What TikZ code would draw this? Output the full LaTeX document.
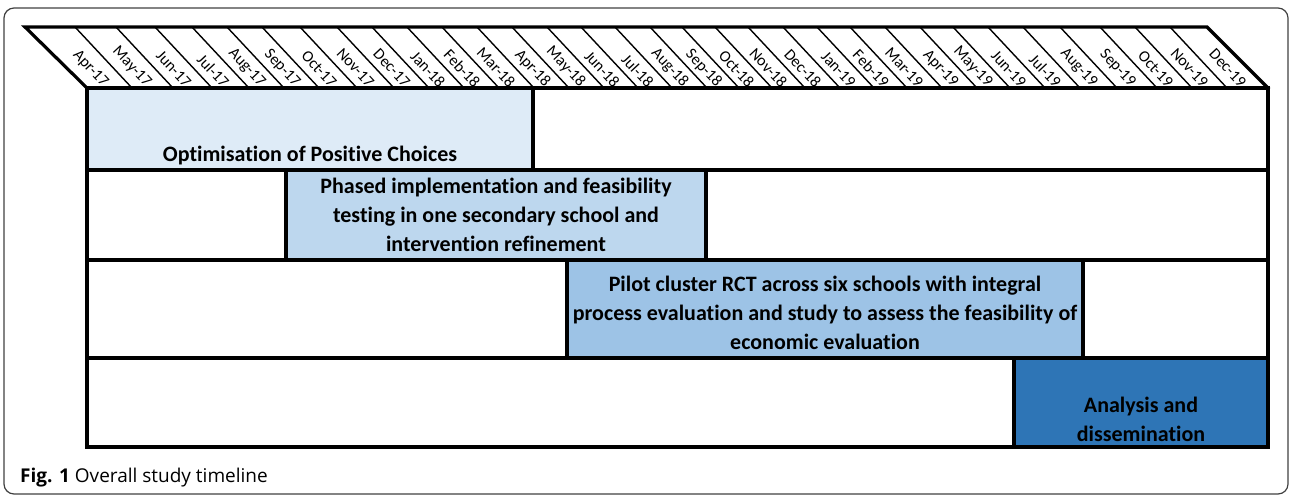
\documentclass[tikz,border=0pt]{standalone}
\usepackage{fontspec}
\setmainfont{Carlito}[RawFeature={-liga}]
\newfontfamily\capfont{Open Sans}
\definecolor{barA}{HTML}{DEEBF7}
\definecolor{barB}{HTML}{BDD7EE}
\definecolor{barC}{HTML}{9DC3E6}
\definecolor{barD}{HTML}{2E75B6}
\definecolor{framegray}{HTML}{404040}
\tikzset{
  thickline/.style={line width=3.2pt, line cap=rect},
  divline/.style={line width=1.4pt},
  month/.style={font=\fontsize{16}{17}\selectfont, inner sep=0pt, rotate=-47, anchor=east},
  bartext/.style={font=\fontsize{22}{29}\selectfont\bfseries, align=center, inner sep=0pt},
}
\begin{document}
\begin{tikzpicture}[x=1pt,y=-1pt]
\useasboundingbox (0,0) rectangle (1290,496);
% outer frame
\draw[framegray, line width=1.2pt, rounded corners=10pt] (4,8) rectangle (1288,494);
% bars
\fill[barA] (87,88) rectangle (533,170);
\fill[barB] (286,170) rectangle (706,260);
\fill[barC] (567,260) rectangle (1083,358);
\fill[barD] (1014,358) rectangle (1268,447);
% header dividers
\foreach \t in {75,116,155,192,227,262,300,337,372,407,442,477,512,547,581,615,650,682,715,748,783,817,850,885,920,953,988,1023,1060,1100,1135,1170}
  \draw[divline] (\t,27) -- ({\t+57},88);
% header outline
\draw[thickline, line join=miter] (87,88) -- (25,27) -- (1207,27) -- (1268,88);
% table grid
\draw[thickline] (87,88) rectangle (1268,447);
\draw[thickline] (87,170) -- (1268,170);
\draw[thickline] (87,260) -- (1268,260);
\draw[thickline] (87,358) -- (1268,358);
\draw[thickline] (533,88) -- (533,170);
\draw[thickline] (286,170) -- (286,260);
\draw[thickline] (706,170) -- (706,260);
\draw[thickline] (567,260) -- (567,358);
\draw[thickline] (1083,260) -- (1083,358);
\draw[thickline] (1014,358) -- (1014,447);
% month labels
\foreach \m/\lab [count=\i] in {109.5/Apr-17,152.5/May-17,192.5/Jun-17,230.5/Jul-17,266.5/Aug-17,301.5/Sep-17,338/Oct-17,375.5/Nov-17,411.5/Dec-17,446.5/Jan-18,481.5/Feb-18,516.5/Mar-18,551.5/Apr-18,586.5/May-18,621/Jun-18,655/Jul-18,689.5/Aug-18,723/Sep-18,755.5/Oct-18,788.5/Nov-18,822.5/Dec-18,857/Jan-19,890.5/Feb-19,924.5/Mar-19,959.5/Apr-19,993.5/May-19,1027.5/Jun-19,1062.5/Jul-19,1098.5/Aug-19,1137/Sep-19,1174.5/Oct-19,1209.5/Nov-19,1247.5/Dec-19}
  \node[month] (m\i) at ({\m-4},85) {\lab};
% bar texts
\node[bartext] (t1) at (310,156) {Optimisation of Positive Choices};
\node[bartext] (t2) at (496,215) {Phased implementation and feasibility\\testing in one secondary school and\\intervention refinement};
\node[bartext] (t3) at (825,312.5) {Pilot cluster RCT across six schools with integral\\process evaluation and study to assess the feasibility of\\economic evaluation};
\node[bartext] (t4) at (1141,419.5) {Analysis and\\dissemination};
% caption
\node[font=\capfont\fontsize{19}{21}\selectfont, anchor=base west, inner sep=0pt] (cap) at (20,482) {\textbf{Fig. 1} Overall study timeline};
\end{tikzpicture}
\end{document}
